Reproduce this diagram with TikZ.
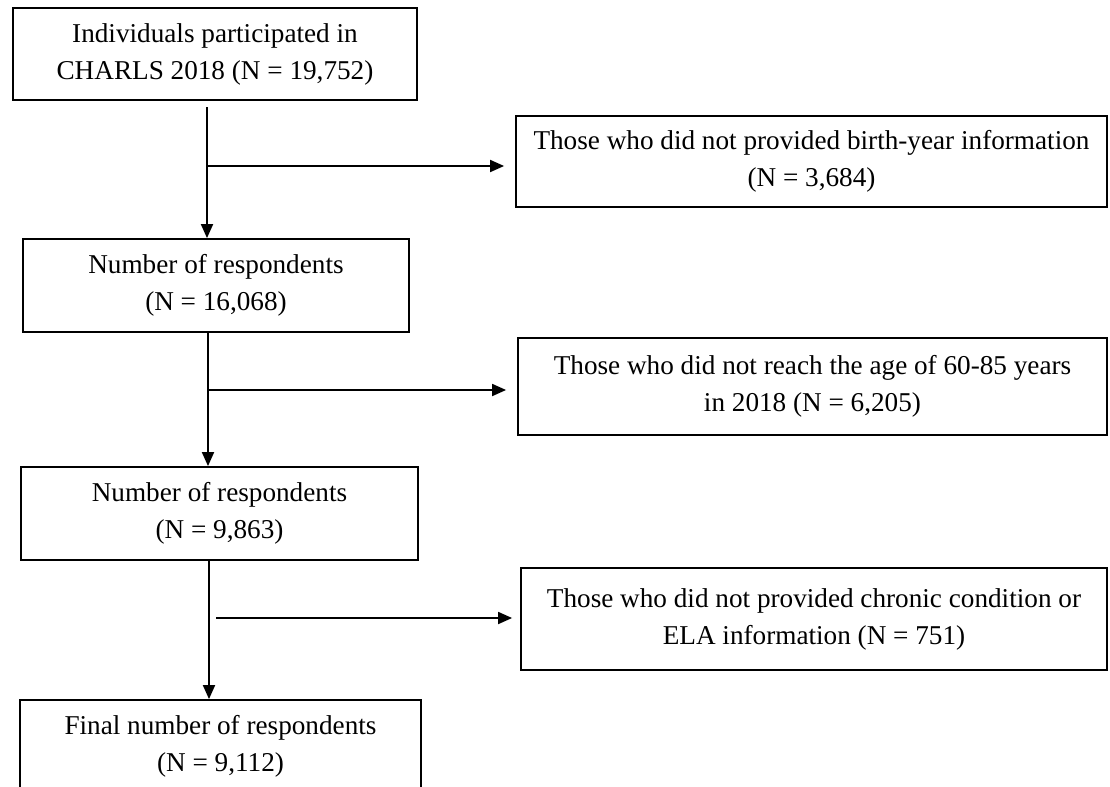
\documentclass[tikz,border=0pt]{standalone}
\usepackage{fontspec}
\setmainfont{Liberation Serif}
\usetikzlibrary{arrows.meta}
\tikzset{
	box/.style={draw, line width=0.9pt, align=center, inner sep=0pt, minimum width=#1},
	box/.default=190pt,
}
\begin{document}
\begin{tikzpicture}[x=0.5pt, y=-0.5pt, font=\fontsize{13.6}{18.5}\selectfont, line join=miter, >={Triangle[length=7pt,width=6pt]}]
	\useasboundingbox (0,0) rectangle (1110,787);
	% main column
	\node[box=202pt, minimum height=46pt] (n1) at (215,54) {Individuals participated in\\CHARLS 2018 (N = 19,752)};
	\node[box=193pt, minimum height=46.5pt] (n2) at (216,285.5) {Number of respondents\\(N = 16,068)};
	\node[box=198.5pt, minimum height=46.5pt] (n3) at (219.5,513.5) {Number of respondents\\(N = 9,863)};
	\node[box=200.5pt, minimum height=46.5pt] (n4) at (220.5,746.5) {Final number of respondents\\(N = 9,112)};
	% excluded
	\node[box=295.5pt, minimum height=45.5pt] (e1) at (811.5,161.5) {Those who did not provided birth-year information\\(N = 3,684)};
	\node[box=294.5pt, minimum height=48.5pt] (e2) at (812.5,386.5) {Those who did not reach the age of 60-85 years\\in 2018 (N = 6,205)};
	\node[box=293pt, minimum height=51pt] (e3) at (814,619) {Those who did not provided chronic condition or\\ELA information (N = 751)};
	% arrows
	\coordinate (a1) at (207,107); \coordinate (j1) at (207,166);
	\coordinate (a2) at (208,332); \coordinate (j2) at (208,390);
	\coordinate (a3) at (209,560); \coordinate (j3) at (216,618);
	\draw[->, line width=0.9pt] (a1) -- (a1 |- n2.north);
	\draw[->, line width=0.9pt, shorten >=5.5pt] (j1) -- (j1 -| e1.west);
	\draw[->, line width=0.9pt] (a2) -- (a2 |- n3.north);
	\draw[->, line width=0.9pt, shorten >=5.5pt] (j2) -- (j2 -| e2.west);
	\draw[->, line width=0.9pt] (a3) -- (a3 |- n4.north);
	\draw[->, line width=0.9pt, shorten >=4pt] (j3) -- (j3 -| e3.west);
\end{tikzpicture}
\end{document}
